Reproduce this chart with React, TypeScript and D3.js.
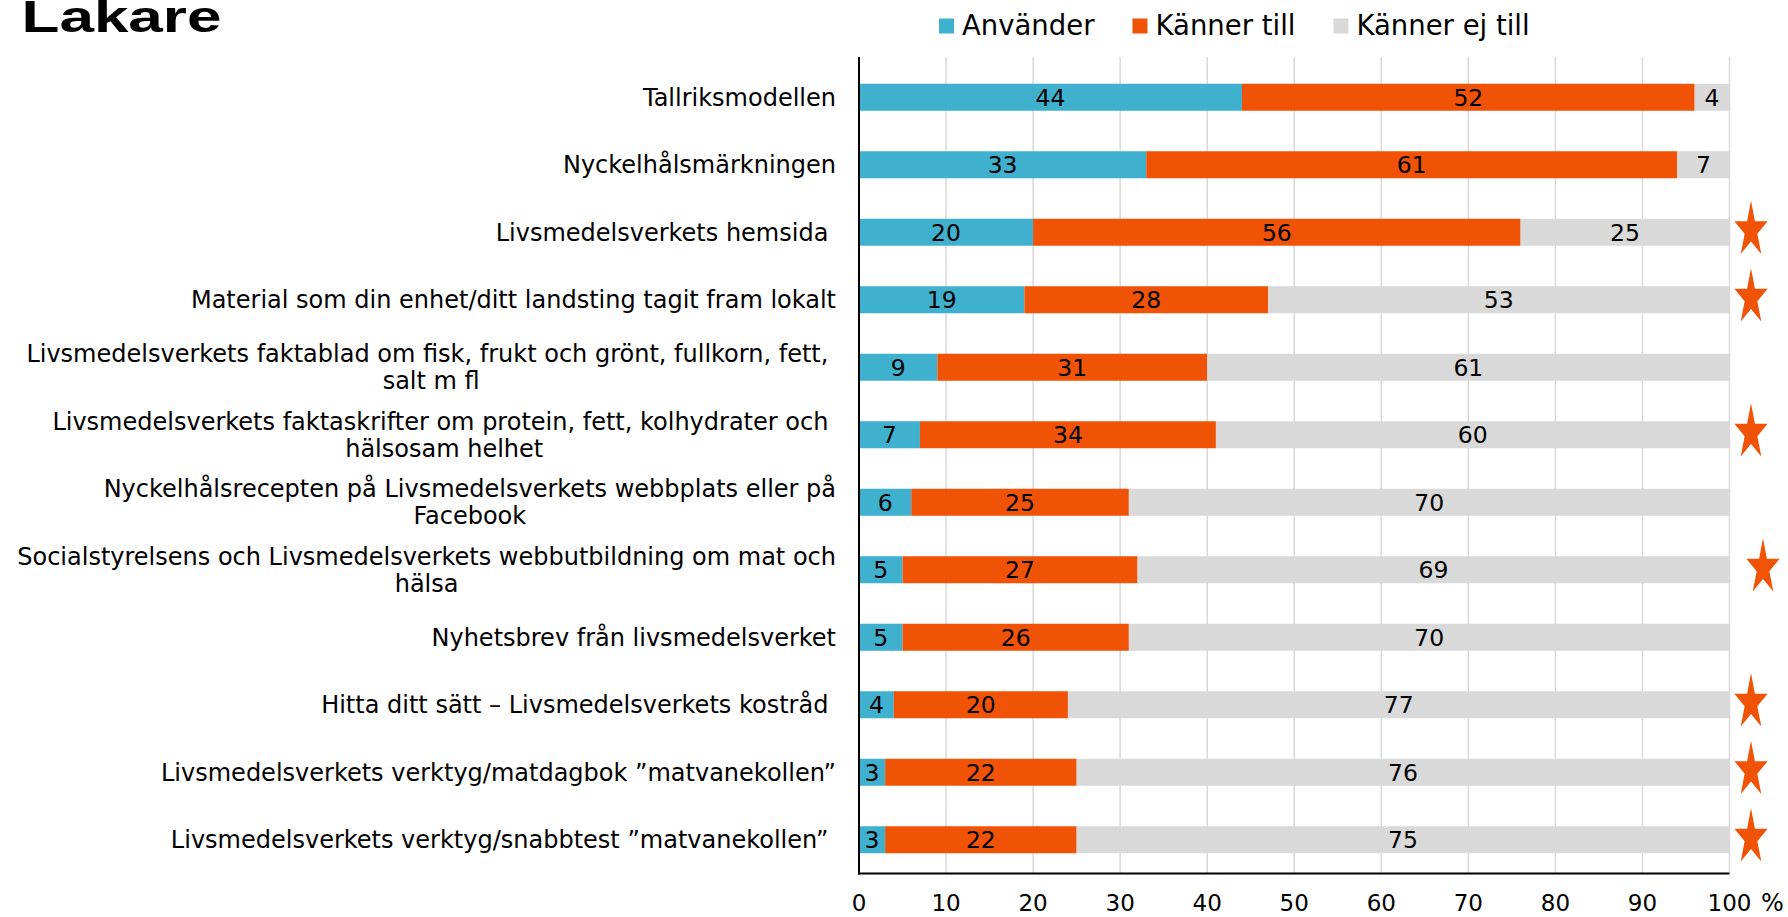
import React, { useEffect, useRef } from 'react'
import * as d3 from 'd3'

// Data
const categories = [
    'Tallriksmodellen',
    'Nyckelhålsmärkningen',
    'Livsmedelsverkets hemsida ',
    'Material som din enhet/ditt landsting tagit fram lokalt',
    'Livsmedelsverkets faktablad om fisk, frukt och grönt, fullkorn, fett, \nsalt m fl',
    'Livsmedelsverkets faktaskrifter om protein, fett, kolhydrater och \nhälsosam helhet',
    'Nyckelhålsrecepten på Livsmedelsverkets webbplats eller på\nFacebook',
    'Socialstyrelsens och Livsmedelsverkets webbutbildning om mat och\nhälsa',
    'Nyhetsbrev från livsmedelsverket',
    'Hitta ditt sätt – Livsmedelsverkets kostråd ',
    'Livsmedelsverkets verktyg/matdagbok ”matvanekollen”',
    'Livsmedelsverkets verktyg/snabbtest ”matvanekollen” ',
]
const anvander = [44, 33, 20, 19, 9, 7, 6, 5, 5, 4, 3, 3]
const kannerTill = [52, 61, 56, 28, 31, 34, 25, 27, 26, 20, 22, 22]
const kannerEjTill = [4, 7, 25, 53, 61, 60, 70, 69, 70, 77, 76, 75]
const starred = [false, false, true, true, false, true, false, true, false, true, true, true]
const seriesNames = ['Använder', 'Känner till', 'Känner ej till']
const xTicks = [0, 10, 20, 30, 40, 50, 60, 70, 80, 90, 100]

// Style
const colors = ['#3fb1ce', '#f05206', '#d9d9d9']
const font = 'DejaVu Sans, Verdana, sans-serif'
const W = 1788
const H = 917
const plotTop = 57

const App = () => {
    const svgRef = useRef(null)

    useEffect(() => {
        const svg = d3.select(svgRef.current)
        svg.selectAll('*').remove()

        const x = d3.scaleLinear().domain([0, 100]).range([859, 1729.5]).clamp(true)
        const y = d3.scaleBand()
            .domain(categories)
            .range([63.5, 873.5])
            .paddingInner(0.6)
            .paddingOuter(0.3)

        const rows = categories.map((c, i) => ({
            cat: c,
            [seriesNames[0]]: anvander[i],
            [seriesNames[1]]: kannerTill[i],
            [seriesNames[2]]: kannerEjTill[i],
        }))
        const stacked = d3.stack().keys(seriesNames)(rows)

        // gridlines
        svg.append('g')
            .selectAll('line')
            .data(xTicks.slice(1))
            .join('line')
            .attr('x1', d => x(d)).attr('x2', d => x(d))
            .attr('y1', plotTop).attr('y2', 873.5)
            .attr('stroke', '#d9d9d9')
            .attr('stroke-width', 1.5)

        // bars + value labels
        stacked.forEach((layer, li) => {
            svg.append('g')
                .attr('fill', colors[li])
                .selectAll('rect')
                .data(layer)
                .join('rect')
                .attr('x', d => x(d[0]))
                .attr('y', d => y(d.data.cat))
                .attr('width', d => x(d[1]) - x(d[0]))
                .attr('height', y.bandwidth())

            svg.append('g')
                .selectAll('text')
                .data(layer)
                .join('text')
                .attr('x', d => (x(d[0]) + x(d[1])) / 2)
                .attr('y', d => y(d.data.cat) + y.bandwidth() / 2 + 8.5)
                .attr('text-anchor', 'middle')
                .attr('font-family', font)
                .attr('font-size', 23.5)
                .attr('fill', '#000')
                .text(d => d[1] - d[0])
        })

        // axes lines
        svg.append('line')
            .attr('x1', x(0)).attr('x2', x(0))
            .attr('y1', plotTop).attr('y2', 874.5)
            .attr('stroke', '#000').attr('stroke-width', 2)
        svg.append('line')
            .attr('x1', x(0) - 1).attr('x2', x(100))
            .attr('y1', 873.5).attr('y2', 873.5)
            .attr('stroke', '#000').attr('stroke-width', 2)

        // x tick labels
        svg.append('g')
            .selectAll('text')
            .data(xTicks)
            .join('text')
            .attr('x', d => x(d))
            .attr('y', 911)
            .attr('text-anchor', 'middle')
            .attr('font-family', font)
            .attr('font-size', 23)
            .text(d => d)
        svg.append('text')
            .attr('x', 1761)
            .attr('y', 911)
            .attr('font-family', font)
            .attr('font-size', 24)
            .text('%')

        // category labels
        const labelRight = 836
        const lineH = 27
        categories.forEach(c => {
            const lines = c.split('\n')
            const cy = y(c) + y.bandwidth() / 2
            const t = svg.append('text')
                .attr('font-family', font)
                .attr('font-size', 24)
                .attr('text-anchor', 'middle')
                .style('white-space', 'pre')
            const spans = lines.map((ln, i) => t.append('tspan')
                .attr('y', cy - ((lines.length - 1) * lineH) / 2 + i * lineH + 8.5)
                .text(ln))
            const widths = spans.map(s => s.node().getComputedTextLength())
            const maxW = d3.max(widths)
            spans.forEach(s => s.attr('x', labelRight - maxW / 2))
        })

        // stars
        const ka = 0.8908130915292852
        const star = d3.symbol().type(d3.symbolStar).size(1 / ka)()
        svg.append('g')
            .selectAll('path')
            .data(categories.filter((c, i) => starred[i]))
            .join('path')
            .attr('d', star)
            .attr('fill', colors[1])
            .attr('transform', c => {
                const cx = c.startsWith('Socialstyrelsens') ? 1763 : 1751
                return `translate(${cx},${y(c) + y.bandwidth() / 2 - 2}) scale(17.5,29.5)`
            })

        // legend
        let lx = 939
        seriesNames.forEach((name, i) => {
            svg.append('rect')
                .attr('x', lx).attr('y', 18.5)
                .attr('width', 15).attr('height', 15)
                .attr('fill', colors[i])
            const t = svg.append('text')
                .attr('x', lx + 23)
                .attr('y', 35)
                .attr('font-family', font)
                .attr('font-size', 27.5)
                .text(name)
            lx = lx + 23 + t.node().getComputedTextLength() + 38
        })

        // title
        svg.append('text')
            .attr('x', 21.5)
            .attr('y', 32)
            .attr('font-family', 'Liberation Sans, Arial, sans-serif')
            .attr('font-weight', 'bold')
            .attr('font-size', 45)
            .attr('textLength', 200)
            .attr('lengthAdjust', 'spacingAndGlyphs')
            .text('Lakare')
    }, [])

    return (
        <svg
            ref={svgRef}
            width={W}
            height={H}
            style={{ position: 'absolute', left: 0, top: 0, background: '#fff', display: 'block' }}
        />
    )
}

export default App
